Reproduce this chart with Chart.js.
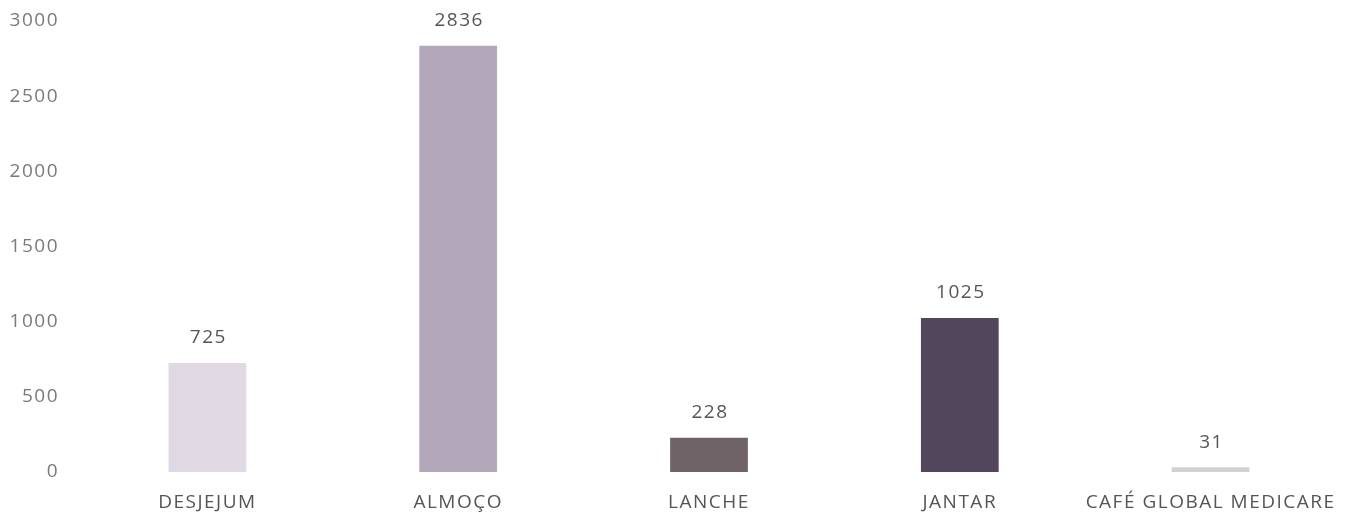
<!DOCTYPE html>
<html>
<head>
<meta charset="utf-8">
<script src="https://cdn.jsdelivr.net/npm/chart.js@4"></script>
<style>
  html, body { margin: 0; padding: 0; background: #ffffff; }
  #wrap { width: 1348px; height: 513px; position: relative; }
</style>
</head>
<body>
<div id="wrap"><canvas id="c" width="1348" height="513"></canvas></div>
<script>
const categories = ["DESJEJUM", "ALMOÇO", "LANCHE", "JANTAR", "CAFÉ GLOBAL MEDICARE"];
const values = [725, 2836, 228, 1025, 31];
const barColors = ["#dfd9e4", "#b2a8ba", "#6f6367", "#51465b", "#d2d2d2"];
const yTicks = [0, 500, 1000, 1500, 2000, 2500, 3000];

const FONT = "'Open Sans', Lato, sans-serif";
const SPACING = "1.5px";

const spacingPlugin = {
  id: "spacing",
  beforeUpdate(chart) { chart.ctx.letterSpacing = SPACING; },
  beforeLayout(chart) { chart.ctx.letterSpacing = SPACING; },
  beforeDraw(chart) { chart.ctx.letterSpacing = SPACING; }
};

const valueLabels = {
  id: "valueLabels",
  afterDatasetsDraw(chart) {
    const ctx = chart.ctx;
    const meta = chart.getDatasetMeta(0);
    ctx.save();
    ctx.letterSpacing = SPACING;
    ctx.font = "19px " + FONT;
    ctx.fillStyle = "#555555";
    ctx.textAlign = "center";
    ctx.textBaseline = "middle";
    meta.data.forEach((bar, i) => {
      ctx.fillText(String(values[i]), bar.x + 1, bar.y - 25);
    });
    ctx.restore();
  }
};

new Chart(document.getElementById("c"), {
  type: "bar",
  data: {
    labels: categories,
    datasets: [{
      data: values,
      backgroundColor: barColors,
      borderWidth: 0,
      barPercentage: 0.62,
      categoryPercentage: 0.5
    }]
  },
  options: {
    responsive: false,
    animation: false,
    devicePixelRatio: 1,
    layout: { padding: { top: 21, right: 12, bottom: 0, left: 0 } },
    plugins: { legend: { display: false }, tooltip: { enabled: false } },
    scales: {
      x: {
        grid: { display: false, tickLength: 8 },
        border: { display: false },
        ticks: {
          color: "#555555",
          font: { family: FONT, size: 19 },
          padding: 11,
          maxRotation: 0,
          autoSkip: false
        },
        afterFit(scale) { scale.height = 41; }
      },
      y: {
        min: 0,
        max: 3000,
        grid: { display: false, tickLength: 23 },
        border: { display: false },
        afterBuildTicks(scale) { scale.ticks = yTicks.map(v => ({ value: v })); },
        ticks: {
          color: "#7a7a7a",
          font: { family: FONT, size: 19 },
          padding: 0,
          callback: (v) => String(v)
        },
        afterFit(scale) { scale.width = 82; }
      }
    }
  },
  plugins: [spacingPlugin, valueLabels]
});
</script>
</body>
</html>
